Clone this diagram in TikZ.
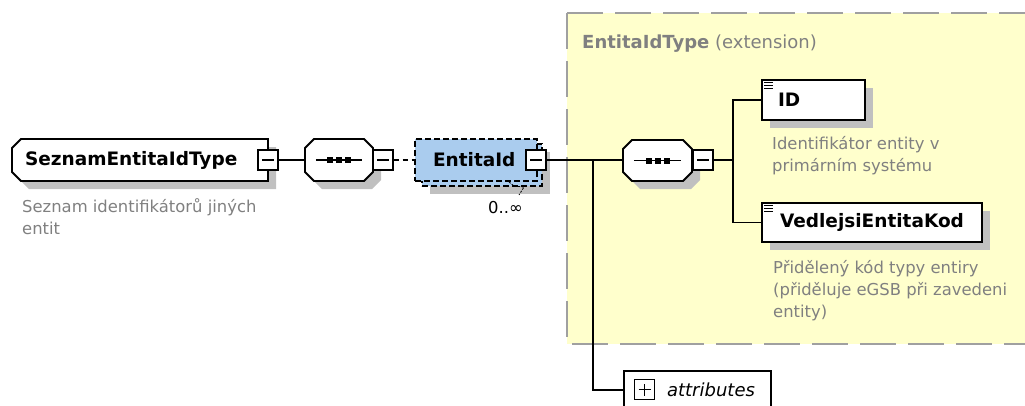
\documentclass[tikz,border=0pt]{standalone}
\usepackage{fontspec}
\setmainfont{DejaVu Sans}
\usetikzlibrary{shadows,calc}
\definecolor{yel}{RGB}{255,255,204}
\definecolor{bord}{RGB}{160,160,160}
\definecolor{shd}{RGB}{192,192,192}
\definecolor{desc}{RGB}{128,128,128}
\definecolor{entblue}{RGB}{170,204,238}
\newcommand\octbox[5]{%
  \fill[shd] (#1+#5+8,#2+8) -- (#3-#5+8,#2+8) -- (#3+8,#2+#5+8) -- (#3+8,#4-#5+8) -- (#3-#5+8,#4+8) -- (#1+#5+8,#4+8) -- (#1+8,#4-#5+8) -- (#1+8,#2+#5+8) -- cycle;
  \draw[line width=1.8pt, fill=white] (#1+#5,#2) -- (#3-#5,#2) -- (#3,#2+#5) -- (#3,#4-#5) -- (#3-#5,#4) -- (#1+#5,#4) -- (#1,#4-#5) -- (#1,#2+#5) -- cycle;}
\begin{document}
\begin{tikzpicture}[x=1pt,y=-1pt,
  ln/.style={line width=1.5pt},
  nm/.style={font=\fontsize{18.5}{22}\selectfont\bfseries},
  dsc/.style={font=\fontsize{16.4}{22}\selectfont, text=desc, align=left, inner sep=0pt, anchor=base west},
  shad/.style={general shadow={fill=shd, shadow xshift=8pt, shadow yshift=-8pt}},
  elbox/.style={draw, line width=1.8pt, fill=white, shad, inner ysep=0pt, align=left, nm},
  mbox/.style={draw, line width=1.4pt, fill=white, minimum size=20pt, inner sep=0pt,
    path picture={\draw[line width=1.4pt] ([xshift=-6pt]path picture bounding box.center) -- ([xshift=6pt]path picture bounding box.center);}},
  pbox/.style={draw, line width=1.4pt, fill=white, minimum size=20pt, inner sep=0pt,
    path picture={\draw[line width=1.4pt] ([xshift=-6pt]path picture bounding box.center) -- ([xshift=6pt]path picture bounding box.center);
      \draw[line width=1.4pt] ([yshift=-6pt]path picture bounding box.center) -- ([yshift=6pt]path picture bounding box.center);}},
  holder/.style={draw=none, fill=none, inner ysep=0pt},
  entbox/.style={draw, line width=1.7pt, fill=entblue, dash pattern=on 6pt off 3pt, minimum height=42pt, inner ysep=0pt},
  yelbox/.style={line width=2pt, draw=bord, dash pattern=on 36pt off 12pt},
  icon/.style={line width=0.9pt}
]
\useasboundingbox (0,0) rectangle (1025,405);
% extension area
\fill[yel] (567,13) rectangle (1040,344);
\draw[yelbox] (567,13) -- (1040,13);
\draw[yelbox] (567,13) -- (567,344) -- (1040,344);
\node[anchor=base west, font=\fontsize{18}{22}\selectfont, text=desc, inner sep=0pt] (yt) at (582,48) {\textbf{EntitaIdType} (extension)};

% shapes of the chamfered nodes
\fill[shd] (29,147) -- (276,147) -- (276,189) -- (29,189) -- (20,180) -- (20,156) -- cycle;
\draw[line width=1.8pt, fill=white] (21,139) -- (268,139) -- (268,181) -- (21,181) -- (12,172) -- (12,148) -- cycle;
\octbox{305}{139}{373}{181}{9}
\octbox{623}{140}{692}{181}{9}

\coordinate (j1) at (593,160);
\coordinate (j2) at (733,160);

% nodes
\node[holder, nm, minimum width=256pt, minimum height=42pt, text width=230pt, inner xsep=13pt, align=left] (sz) at (140,160) {SeznamEntitaIdType};
\node[dsc] (szd) at (22,234) {Seznam identifikátorů jiných\\entit};

\node[holder, minimum width=68pt, minimum height=42pt] (s1) at (339,160) {};

\node[entbox, shad, minimum width=120pt] (eb) at (482,165) {};
\node[entbox, minimum width=122pt, text width=86pt, inner xsep=18pt, align=left, nm] (ent) at (476,160) {EntitaId};
\node[anchor=base west, inner sep=0pt, font=\fontsize{16.4}{22}\selectfont] (occ) at (488,213) {0..∞};
\coordinate (oc1) at (509,182);
\coordinate (oc2) at (519,195);
\draw[line width=0.8pt, dash pattern=on 2pt off 1.5pt] (oc1) -- (514,186) -- (524,187) -- (oc2);

\node[holder, minimum width=69pt, minimum height=41pt] (s2) at (657.5,160.5) {};

\node[elbox, minimum width=103pt, minimum height=40pt, text width=71pt, inner xsep=16pt] (id) at (813.5,100) {ID};
\node[dsc] (idd) at (772,171) {Identifikátor entity v\\primárním systému};

\node[elbox, minimum width=220pt, minimum height=39pt, text width=184pt, inner xsep=18pt] (ved) at (872,222.5) {VedlejsiEntitaKod};
\node[dsc] (vedd) at (773,317) {Přidělený kód typy entiry\\(přiděluje eGSB při zavedeni\\entity)};

\node[draw, line width=1.5pt, fill=white, minimum width=147pt, minimum height=38pt, inner sep=0pt,
  font=\fontsize{18}{22}\selectfont\itshape] (attr) at (697.5,390) {\hspace*{27pt}attributes};
\node[pbox] (pl) at (644.5,389.5) {};

% connector lines
\node[mbox] (m1) at (268,160) {};
\node[mbox] (m2) at (383,160) {};
\node[mbox] (m3) at (536,160) {};
\node[mbox] (m4) at (703,160) {};
\draw[ln] (m1.east) -- (s1.west);
\draw[ln, dash pattern=on 5pt off 4pt] (m2.east) -- (ent.west);
\draw[ln] (m3.east) -- (s2.west |- m3.east);
\draw[ln] (j1) |- (attr.west);
\draw[ln] (m4.east) -- (j2);
\draw[ln] (j2) |- (id.west);
\draw[ln] (j2) |- (ved.west);

% sequence symbols
\foreach \s in {s1,s2}{
  \draw[line width=1.3pt] ([xshift=11pt]\s.west) -- ([xshift=-11pt]\s.east);
  \foreach \dx in {-9,0,9}{
    \fill ([xshift=\dx pt]\s.center) +(-3,-3) rectangle +(3,3);
  }
}
% element icons
\foreach \n in {id,ved}{
  \foreach \dy in {3,6,9}{
    \draw[icon] ($(\n.north west)+(3,\dy)$) -- ++(9,0);
  }
}
\end{tikzpicture}
\end{document}
